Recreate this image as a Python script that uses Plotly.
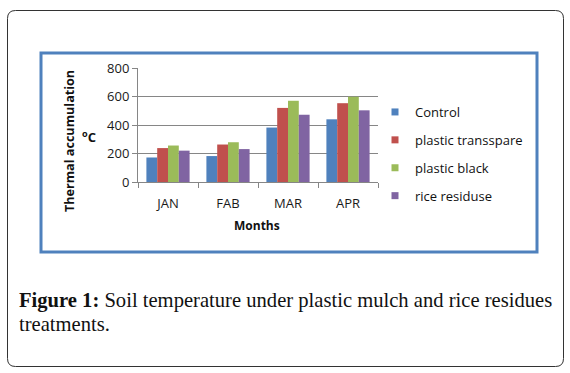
import plotly.graph_objects as go

months = ["JAN", "FAB", "MAR", "APR"]
series_names = ["Control", "plastic transspare", "plastic black", "rice residuse"]
control = [172, 182, 382, 440]
plastic_transspare = [238, 263, 520, 553]
plastic_black = [256, 279, 570, 598]
rice_residuse = [220, 231, 472, 503]
y_ticks = [0, 200, 400, 600, 800]
colors = ["#4F81BD", "#C0504D", "#9BBB59", "#8064A2"]

W, H = 570, 373
PL, PR, PT, PB = 138, 378, 68, 182


def px(x):
    return (x - PL) / (PR - PL)


def py(y):
    return (PB - y) / (PB - PT)


fig = go.Figure()
values = [control, plastic_transspare, plastic_black, rice_residuse]
for name, vals, col in zip(series_names, values, colors):
    fig.add_trace(go.Bar(x=months, y=vals, name=name, marker_color=col,
                         marker_line_width=0, showlegend=False))
for i, (name, col) in enumerate(zip(series_names, colors)):
    fig.add_trace(go.Scatter(x=[None], y=[None], mode="markers", name=name,
                             marker=dict(symbol="square", size=7, color=col),
                             legendgroup=str(i), showlegend=True))

axis_grey = "#868686"
fig.update_layout(
    width=W, height=H,
    margin=dict(l=PL, r=W - PR, t=PT, b=H - PB, pad=0),
    paper_bgcolor="white", plot_bgcolor="white",
    barmode="group", bargap=0.28, bargroupgap=0,
    font=dict(family="Open Sans", size=13, color="#222"),
    legend=dict(x=px(375), y=py(97), xanchor="left", yanchor="top",
                tracegroupgap=8, font=dict(family="Open Sans", size=13, color="#111"),
                bgcolor="rgba(0,0,0,0)", itemwidth=30),
    xaxis=dict(type="category", showline=True, linecolor=axis_grey, linewidth=1,
               ticks="outside", tickson="boundaries", ticklen=5, tickcolor=axis_grey,
               showgrid=False, ticklabelstandoff=9,
               tickfont=dict(family="Open Sans", size=13, color="#1a1a1a")),
    yaxis=dict(range=[0, 800], tickvals=y_ticks, showline=True, linecolor=axis_grey,
               linewidth=1, ticks="outside", ticklen=5, tickcolor=axis_grey,
               showgrid=True, gridcolor=axis_grey, gridwidth=1, zeroline=False,
               tickfont=dict(family="Open Sans", size=13, color="#1a1a1a")),
)

# axis titles
fig.add_annotation(text="<b>Months</b>", xref="paper", yref="paper",
                   x=px(257), y=py(225), xanchor="center", yanchor="middle", showarrow=False,
                   font=dict(family="Open Sans", size=12, color="#111"))
fig.add_annotation(text="<b>Thermal accumulation</b>", xref="paper", yref="paper",
                   x=px(69), y=py(141), xanchor="center", yanchor="middle",
                   showarrow=False, textangle=-90,
                   font=dict(family="Open Sans", size=12.6, color="#111"))
fig.add_annotation(text="<b><sup>o</sup>C</b>", xref="paper", yref="paper",
                   x=px(89), y=py(136), xanchor="center", yanchor="middle", showarrow=False,
                   font=dict(family="Open Sans", size=13, color="#111"))

# caption
cap_font = dict(family="Liberation Serif", size=20.6, color="#111")
fig.add_annotation(text="<b>Figure 1:</b> Soil temperature under plastic mulch and rice residues",
                   xref="paper", yref="paper", x=px(17), y=py(300),
                   xanchor="left", yanchor="middle", align="left", showarrow=False,
                   font=cap_font)
fig.add_annotation(text="treatments.",
                   xref="paper", yref="paper", x=px(17), y=py(324),
                   xanchor="left", yanchor="middle", align="left", showarrow=False,
                   font=cap_font)

# chart frame (blue)
fig.add_shape(type="rect", xref="paper", yref="paper",
              x0=px(41), x1=px(537), y0=py(53), y1=py(252),
              line=dict(color="#4F81BD", width=3), fillcolor="rgba(0,0,0,0)", layer="below")

# outer rounded frame
x0, x1, y0, y1, r = px(7.5), px(563.5), py(10.5), py(366.5), 8
rx = r / (PR - PL)
ry = r / (PB - PT)
path = (f"M{x0 + rx},{y0} L{x1 - rx},{y0} Q{x1},{y0} {x1},{y0 - ry} "
        f"L{x1},{y1 + ry} Q{x1},{y1} {x1 - rx},{y1} "
        f"L{x0 + rx},{y1} Q{x0},{y1} {x0},{y1 + ry} "
        f"L{x0},{y0 - ry} Q{x0},{y0} {x0 + rx},{y0} Z")
fig.add_shape(type="path", xref="paper", yref="paper", path=path,
              line=dict(color="#333", width=1), layer="below")

fig.write_html("out.html", config={"displayModeBar": False},
               post_script="document.body.style.margin='0';document.body.style.overflow='hidden';")
